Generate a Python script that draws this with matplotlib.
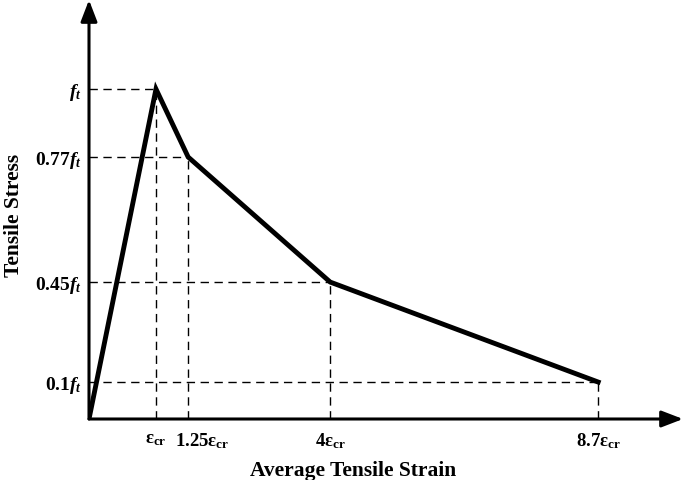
import matplotlib
matplotlib.use("Agg")
import matplotlib.pyplot as plt
import matplotlib.transforms as mtransforms

plt.rcParams['font.family'] = ['Liberation Serif', 'DejaVu Serif']
plt.rcParams['font.weight'] = 'bold'
plt.rcParams['mathtext.fontset'] = 'custom'
plt.rcParams['mathtext.rm'] = 'Liberation Serif:bold'
plt.rcParams['mathtext.it'] = 'Liberation Serif:italic'
plt.rcParams['mathtext.bf'] = 'Liberation Serif:bold'

# schematic positions of the break points (as drawn, in units of eps_cr and f_t)
strain = [0.0, 1.0, 1.48, 3.6, 7.6]
stress = [0.0, 1.0, 0.794, 0.415, 0.112]

x_labels = ['ε$_{\\mathrm{cr}}$', '1.25ε$_{\\mathrm{cr}}$', '4ε$_{\\mathrm{cr}}$', '8.7ε$_{\\mathrm{cr}}$']
y_labels = ['$\\mathit{f_t}$', '0.77$\\mathit{f_t}$', '0.45$\\mathit{f_t}$', '0.1$\\mathit{f_t}$']

fig = plt.figure(figsize=(6.85, 4.8), dpi=100)
ax = fig.add_axes([89 / 685, 61 / 480, (683 - 89) / 685, 419 / 480])
ax.set_xlim(0, 594 / 67)
ax.set_ylim(0, 1.27)
for s in ax.spines.values():
    s.set_visible(False)

# dashed guide lines
for x, y in zip(strain[1:], stress[1:]):
    ax.plot([0, x], [y, y], color='black', lw=1.0, ls=(0, (6, 4)), zorder=1)
    ax.plot([x, x], [0, y], color='black', lw=1.0, ls=(0, (6, 4)), zorder=1)

# softening curve
ax.plot(strain, stress, color='black', lw=3.5, solid_joinstyle='miter', zorder=3)

# axes with arrows
arrow = dict(arrowstyle='-|>,head_length=1.3,head_width=0.5', color='black', lw=2.2,
             shrinkA=0, shrinkB=0)
ax.annotate('', xy=(1.0, 0), xytext=(0, 0), xycoords='axes fraction', arrowprops=arrow, zorder=4)
ax.annotate('', xy=(0, 1.0), xytext=(0, 0), xycoords='axes fraction', arrowprops=arrow, zorder=4)

ax.set_xticks(strain[1:])
ax.set_xticklabels(x_labels, fontsize=13.5)
ax.set_yticks(stress[1:])
ax.set_yticklabels(y_labels, fontsize=14)
ax.tick_params(axis='x', length=0, pad=9)
ax.tick_params(axis='y', length=0, pad=5)

# nudge the 1.25 label right so it clears the first one
lab = ax.get_xticklabels()[1]
lab.set_transform(lab.get_transform() + mtransforms.ScaledTranslation(0.14, 0, fig.dpi_scale_trans))

ax.set_xlabel('Average Tensile Strain', fontsize=15.5, fontweight='bold')
ax.xaxis.set_label_coords((353 - 89) / 594, (419 - 461) / 419)
ax.set_ylabel('Tensile Stress', fontsize=15.5, fontweight='bold')
ax.yaxis.label.set_va('center')
ax.yaxis.set_label_coords((14 - 89) / 594, (419 - 215) / 419)

fig.savefig('out.png', dpi=100)
